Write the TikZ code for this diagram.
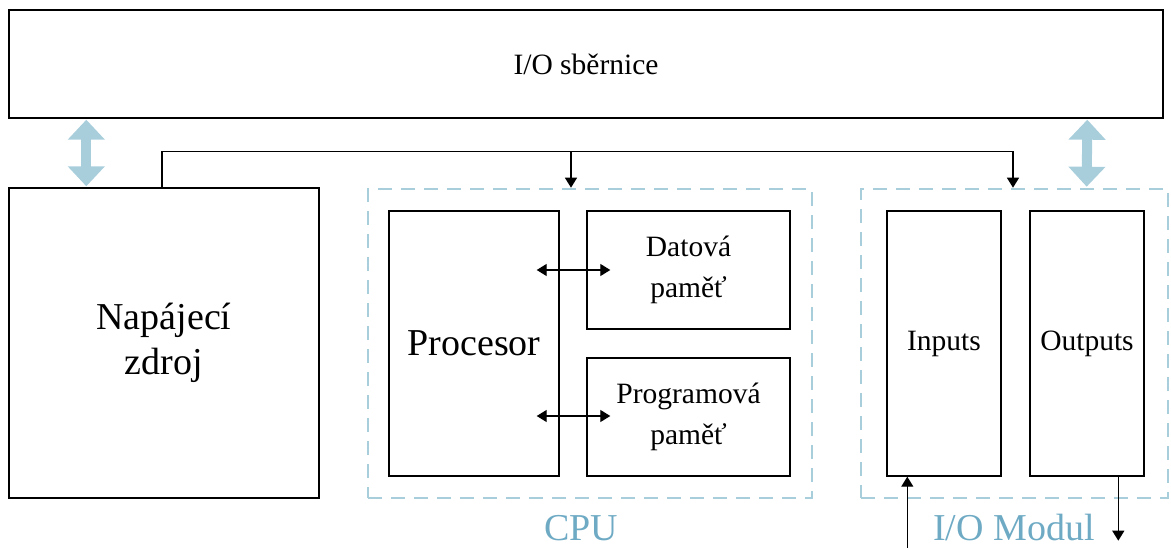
\documentclass[tikz,border=0pt]{standalone}
\usepackage{fontspec}
\setmainfont{Liberation Serif}
\usetikzlibrary{arrows.meta,calc}
\definecolor{lblue}{RGB}{168,206,220}
\definecolor{tblue}{RGB}{110,170,196}
\begin{document}
\begin{tikzpicture}[x=1pt,y=-1pt,
  box/.style={draw=black,line width=1.4pt,fill=white,inner sep=0pt,align=center},
  module/.style={draw=lblue,line width=2.6pt,dash pattern=on 14pt off 9pt,inner sep=0pt},
  small/.style={font=\fontsize{29.5}{41}\selectfont},
  big/.style={font=\fontsize{38}{45}\selectfont},
  lab/.style={text=tblue,font=\fontsize{38}{44}\selectfont},
  conn/.style={draw=black,line width=1.3pt,-{Triangle[width=12pt,length=10pt]}},
  dconn/.style={draw=black,line width=1.3pt,{Triangle[width=12pt,length=10pt]}-{Triangle[width=12pt,length=10pt]}},
  fat/.style={draw=lblue,line width=10pt,{Triangle[width=36pt,length=20pt]}-{Triangle[width=36pt,length=20pt]}}]
\useasboundingbox (0,0) rectangle (1171,548);
\node[box,small,minimum width=1154pt,minimum height=108pt] (bus) at (586,64) {I/O sběrnice};
\node[box,big,minimum width=310pt,minimum height=310pt] (psu) at (164,343) {Napájecí\\zdroj};
\node[module,minimum width=444pt,minimum height=309pt] (cpu) at (590,343.5) {};
\node[module,minimum width=307pt,minimum height=309pt] (io) at (1014.5,343.5) {};
\node[box,big,minimum width=170pt,minimum height=265pt] (proc) at (474,343.5) {Procesor};
\node[box,small,minimum width=203pt,minimum height=118pt] (dat) at (688.5,270) {Datová\\paměť};
\node[box,small,minimum width=203pt,minimum height=118pt] (prog) at (688.5,417) {Programová\\paměť};
\node[box,small,minimum width=114pt,minimum height=265pt] (in) at (944,343.5) {Inputs};
\node[box,small,minimum width=114pt,minimum height=265pt] (out) at (1087,343.5) {Outputs};
\node[lab] (cpul) at (581,528) {CPU};
\node[lab] (iol) at (1014,528) {I/O Modul};
% fat arrows
\draw[fat] ($(bus.south west)+(78,1)$) -- ($(psu.north west)+(78,-1)$);
\draw[fat] ($(bus.south west)+(1079,1)$) -- ($(io.north west)+(227,-1)$);
% power connections
\coordinate (pt) at ($(psu.north)+(-2,-36)$);
\draw[conn] (psu.north -| pt) |- ($(io.north)+(-1.5,-36)$) -- ($(io.north)+(-1.5,0)$);
\draw[conn] ($(cpu.north)+(-19,-36)$) -- ($(cpu.north)+(-19,0)$);
% internal
\draw[dconn] ($(proc.east)+(-23,-73.5)$) -- ($(dat.west)+(24,0)$);
\draw[dconn] ($(proc.east)+(-23,72.5)$) -- ($(prog.west)+(24,-1)$);
% IO arrows
\coordinate (inbot) at ($(in.south west)+(21,72)$);
\draw[conn] (inbot) -- (in.south west -| inbot);
\coordinate (outbot) at ($(out.south west)+(89,64)$);
\draw[conn] (out.south west -| outbot) -- (outbot);
\end{tikzpicture}
\end{document}
